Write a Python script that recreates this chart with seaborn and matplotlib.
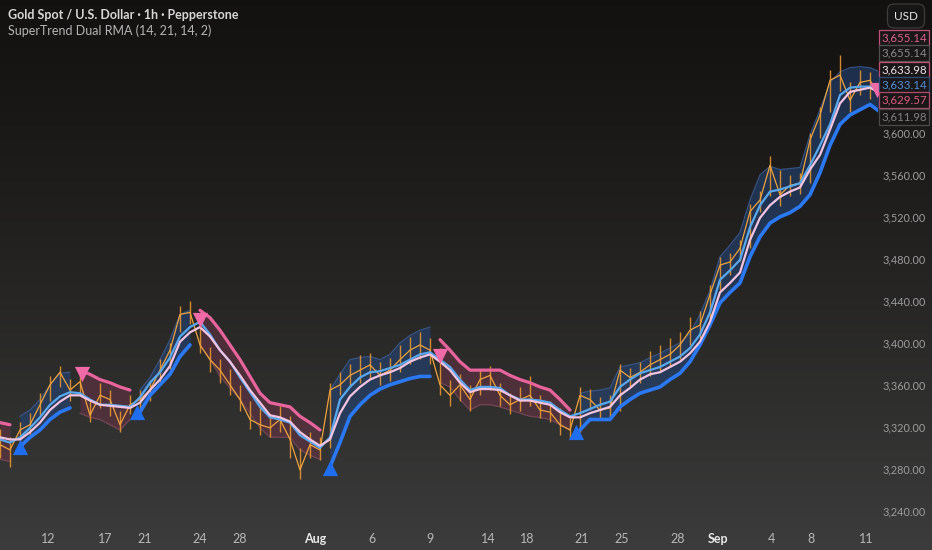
import numpy as np
import pandas as pd
import seaborn as sns
import matplotlib.pyplot as plt

# Gold spot 1h closes, sampled every ~10 px of the visible window
close = [3303, 3298, 3317, 3322, 3341, 3360, 3372, 3355, 3363, 3331,
         3350, 3346, 3322, 3341, 3346, 3355, 3374, 3393, 3427, 3429,
         3398, 3384, 3374, 3360, 3346, 3327, 3322, 3319, 3327, 3308,
         3279, 3303, 3298, 3355, 3360, 3369, 3374, 3379, 3369, 3374,
         3384, 3393, 3398, 3393, 3360, 3350, 3360, 3346, 3365, 3369,
         3350, 3341, 3346, 3350, 3336, 3334, 3322, 3317, 3350, 3346,
         3336, 3338, 3374, 3367, 3372, 3379, 3384, 3389, 3398, 3412,
         3417, 3446, 3474, 3477, 3490, 3525, 3536, 3569, 3541, 3550,
         3552, 3593, 3617, 3650, 3655, 3631, 3648, 3650, 3634]

high = [3318, 3310, 3325, 3333, 3352, 3368, 3378, 3366, 3372, 3345,
        3362, 3355, 3335, 3350, 3355, 3365, 3385, 3400, 3435, 3440,
        3425, 3396, 3385, 3375, 3360, 3345, 3338, 3332, 3340, 3330,
        3300, 3315, 3310, 3362, 3372, 3380, 3388, 3390, 3382, 3386,
        3398, 3406, 3410, 3405, 3395, 3365, 3370, 3360, 3375, 3378,
        3362, 3352, 3358, 3368, 3350, 3345, 3338, 3328, 3358, 3356,
        3348, 3350, 3380, 3376, 3382, 3392, 3398, 3405, 3410, 3425,
        3430, 3455, 3482, 3486, 3498, 3532, 3545, 3578, 3565, 3560,
        3562, 3600, 3625, 3660, 3674, 3648, 3660, 3658, 3645]

low = [3290, 3282, 3305, 3312, 3330, 3345, 3358, 3345, 3350, 3325,
       3338, 3330, 3315, 3332, 3336, 3345, 3362, 3375, 3410, 3418,
       3390, 3372, 3362, 3350, 3335, 3318, 3312, 3310, 3315, 3290,
       3270, 3290, 3288, 3300, 3350, 3358, 3362, 3366, 3360, 3364,
       3372, 3380, 3385, 3380, 3350, 3340, 3345, 3335, 3350, 3355,
       3340, 3332, 3335, 3340, 3328, 3325, 3312, 3308, 3315, 3336,
       3328, 3328, 3335, 3358, 3362, 3368, 3372, 3378, 3385, 3398,
       3405, 3415, 3450, 3465, 3478, 3490, 3525, 3540, 3530, 3540,
       3542, 3552, 3595, 3620, 3640, 3620, 3636, 3632, 3615]

# SuperTrend line (lower band in uptrend, upper band in downtrend)
st_line = [3324, 3322, 3301, 3310, 3317, 3327, 3334, 3338, 3374, 3370,
           3365, 3362, 3358, 3355, 3334, 3350, 3360, 3370, 3387, 3398,
           3431, 3424, 3412, 3398, 3384, 3368, 3352, 3343, 3341, 3339,
           3330, 3324, 3317, 3282, 3305, 3330, 3341, 3350, 3356, 3360,
           3363, 3366, 3368, 3368, 3403, 3393, 3382, 3374, 3374, 3374,
           3374, 3369, 3365, 3362, 3358, 3355, 3346, 3336, 3317, 3327,
           3327, 3327, 3339, 3346, 3352, 3355, 3358, 3365, 3371, 3382,
           3398, 3417, 3438, 3448, 3457, 3482, 3501, 3514, 3520, 3524,
           3530, 3541, 3562, 3588, 3608, 3617, 3622, 3627, 3620]

# opposite edge of the shaded band
band_far = [3289, 3287, 3330, 3336, 3346, 3360, 3371, 3372, 3333, 3329,
            3327, 3322, 3317, 3327, 3355, 3367, 3384, 3403, 3427, 3431,
            3398, 3384, 3368, 3357, 3346, 3333, 3319, 3310, 3310, 3310,
            3298, 3293, 3289, 3355, 3370, 3384, 3386, 3387, 3384, 3389,
            3400, 3407, 3412, 3415, 3362, 3358, 3346, 3336, 3341, 3341,
            3339, 3336, 3333, 3330, 3329, 3327, 3322, 3317, 3352, 3354,
            3355, 3357, 3377, 3379, 3381, 3386, 3390, 3395, 3400, 3409,
            3427, 3450, 3482, 3493, 3505, 3536, 3560, 3568, 3565, 3566,
            3567, 3598, 3622, 3648, 3658, 3662, 3663, 3662, 3658]

# RMA 14 (light blue) and RMA 21 (pink)
rma_fast = [3308, 3305, 3310, 3319, 3329, 3341, 3349, 3353, 3352, 3346,
            3341, 3341, 3340, 3339, 3348, 3362, 3372, 3386, 3406, 3415,
            3420, 3408, 3393, 3382, 3367, 3353, 3339, 3329, 3327, 3324,
            3312, 3306, 3300, 3310, 3346, 3358, 3367, 3372, 3373, 3376,
            3379, 3384, 3389, 3391, 3384, 3377, 3365, 3355, 3358, 3358,
            3357, 3350, 3346, 3346, 3345, 3343, 3336, 3330, 3333, 3337,
            3341, 3344, 3358, 3365, 3371, 3374, 3377, 3382, 3387, 3395,
            3408, 3429, 3460, 3469, 3479, 3510, 3531, 3544, 3546, 3549,
            3552, 3569, 3588, 3608, 3636, 3643, 3644, 3644, 3639]

rma_slow = [3310, 3308, 3308, 3315, 3324, 3336, 3344, 3350, 3350, 3345,
            3341, 3340, 3339, 3338, 3343, 3355, 3365, 3378, 3401, 3410,
            3415, 3406, 3393, 3382, 3369, 3355, 3343, 3331, 3329, 3325,
            3315, 3308, 3302, 3308, 3333, 3349, 3358, 3365, 3369, 3372,
            3376, 3382, 3386, 3389, 3382, 3374, 3362, 3353, 3356, 3356,
            3355, 3350, 3345, 3345, 3343, 3341, 3334, 3329, 3329, 3333,
            3336, 3339, 3350, 3357, 3365, 3370, 3372, 3377, 3382, 3390,
            3401, 3420, 3448, 3457, 3467, 3498, 3519, 3531, 3539, 3544,
            3548, 3565, 3579, 3603, 3628, 3639, 3641, 3643, 3638]

# trend runs: (first sample, last sample, direction)
trend_runs = [(0, 1, -1), (2, 7, 1), (8, 13, -1), (14, 19, 1),
              (20, 32, -1), (33, 43, 1), (44, 57, -1), (58, 88, 1)]

# buy / sell signals
sig_x = [2, 8.2, 13.7, 20, 33, 44, 57.6, 87.7]
sig_price = [3301, 3370, 3334, 3422, 3281, 3387, 3315, 3641]
sig_dir = [1, -1, 1, -1, 1, -1, 1, -1]

date_pos = [4.8, 10.5, 14.5, 20.0, 24.0, 31.5, 37.2, 43.0, 48.8, 52.7,
            58.2, 62.2, 67.8, 71.8, 77.1, 81.1, 86.6]
date_labels = ["12", "17", "21", "24", "28", "Aug", "6", "9", "14", "18",
               "21", "25", "28", "Sep", "4", "8", "11"]
price_ticks = [3240, 3280, 3320, 3360, 3400, 3440, 3480, 3520, 3560, 3600]

# right-side price tags (text, colour, border)
tags = [("3,655.14", "#e0608e", "#c05078"),
        ("3,655.14", "#8a8a8a", "#505050"),
        ("3,633.98", "#f0e0e8", "#c04f72"),
        ("3,633.14", "#4f8fd8", "#2e4c78"),
        ("3,629.57", "#e05a80", "#b04a6a"),
        ("3,611.98", "#808080", "#4a4a4a")]
tag_y = [38, 53, 70, 85, 100, 117]

sns.set_theme(style="dark")
plt.rcParams["font.family"] = ["Lato", "DejaVu Sans"]

df = pd.DataFrame({"i": np.arange(len(close)), "close": close,
                   "high": high, "low": low,
                   "st": st_line, "far": band_far,
                   "fast": rma_fast, "slow": rma_slow})

fig = plt.figure(figsize=(9.32, 5.5), dpi=100)

# background gradient
bg = fig.add_axes([0, 0, 1, 1], zorder=0)
grad = np.linspace(0, 1, 256).reshape(-1, 1)
top = np.array([0.075, 0.070, 0.063])
bot = np.array([0.235, 0.235, 0.235])
img = top + (bot - top) * grad[:, :, None] ** 1.2
bg.imshow(img, aspect="auto", extent=[0, 1, 0, 1], origin="upper")
bg.set_axis_off()

W, H = 932, 550
ax = fig.add_axes([0, 25 / H, 878 / W, 1 - 25 / H], zorder=1)
ax.set_facecolor("none")

up_fill, dn_fill = "#23467e", "#6a3346"
for a, b, d in trend_runs:
    seg = df.iloc[a:b + 1]
    if d > 0:
        ax.fill_between(seg["i"], seg["st"], seg["far"], color=up_fill, alpha=0.55, lw=0, zorder=2)
        ax.plot(seg["i"], seg["far"], color="#3b5f9a", lw=0.9, alpha=0.8, zorder=3)
        ax.plot(seg["i"], seg["st"], color="#2a78f2", lw=2.6, zorder=5)
    else:
        ax.fill_between(seg["i"], seg["st"], seg["far"], color=dn_fill, alpha=0.55, lw=0, zorder=2)
        ax.plot(seg["i"], seg["far"], color="#7d4a5c", lw=0.9, alpha=0.8, zorder=3)
        ax.plot(seg["i"], seg["st"], color="#e8649c", lw=2.3, zorder=5)

# candles: wicks as thin sticks plus the close path
ax.vlines(df["i"], df["low"], df["high"], color="#e8962e", lw=1.0, alpha=0.9, zorder=4)
sns.lineplot(data=df, x="i", y="close", ax=ax, color="#f0a33c", lw=0.9, zorder=4)
sns.lineplot(data=df, x="i", y="fast", ax=ax, color="#58a8f0", lw=1.6, zorder=6)
sns.lineplot(data=df, x="i", y="slow", ax=ax, color="#f2c4e2", lw=1.6, zorder=6)

for x, p, d in zip(sig_x, sig_price, sig_dir):
    if d > 0:
        ax.scatter(x, p, marker="^", s=120, color="#1f6ef0", lw=0, zorder=8)
    else:
        ax.scatter(x, p, marker="v", s=120, color="#f06aa8", lw=0, zorder=8)

ax.set_xlim(0, 87.8)
ax.set_ylim(3226.5, 3726.5)
ax.set_xlabel("")
ax.set_ylabel("")
ax.grid(False)
for s in ax.spines.values():
    s.set_visible(False)

ax.set_xticks(date_pos)
ax.set_xticklabels(date_labels)
for lab in ax.get_xticklabels():
    if lab.get_text() in ("Aug", "Sep"):
        lab.set_color("#e8e8e8")
        lab.set_fontweight("bold")
    else:
        lab.set_color("#b8b8b8")
ax.tick_params(axis="x", length=0, pad=6, labelsize=9)

ax.yaxis.tick_right()
ax.set_yticks(price_ticks)
ax.set_yticklabels([f"{t:,.2f}" for t in price_ticks])
ax.tick_params(axis="y", length=0, pad=3, labelsize=7.8, labelcolor="#9c9c9c")

fig.text(8 / W, 1 - 15 / H, "Gold Spot / U.S. Dollar · 1h · Pepperstone",
         color="#d6d6d6", fontsize=9, fontweight="bold", va="center", ha="left")
fig.text(8 / W, 1 - 31 / H, "SuperTrend Dual RMA (14, 21, 14, 2)",
         color="#b4b4b4", fontsize=9, va="center", ha="left")

fig.text(906 / W, 1 - 16 / H, "USD", color="#e8e8e8", fontsize=8.5, ha="center", va="center",
         bbox=dict(boxstyle="round,pad=0.55", fc="#161616", ec="#3c3c3c", lw=0.9))

for (txt, tc, ec), y in zip(tags, tag_y):
    fig.text(904 / W, 1 - y / H, txt, color=tc, fontsize=8.3, ha="center", va="center",
             bbox=dict(boxstyle="square,pad=0.18", fc="#1a1718", ec=ec, lw=0.9), zorder=10)

fig.savefig("out.png", dpi=100)
